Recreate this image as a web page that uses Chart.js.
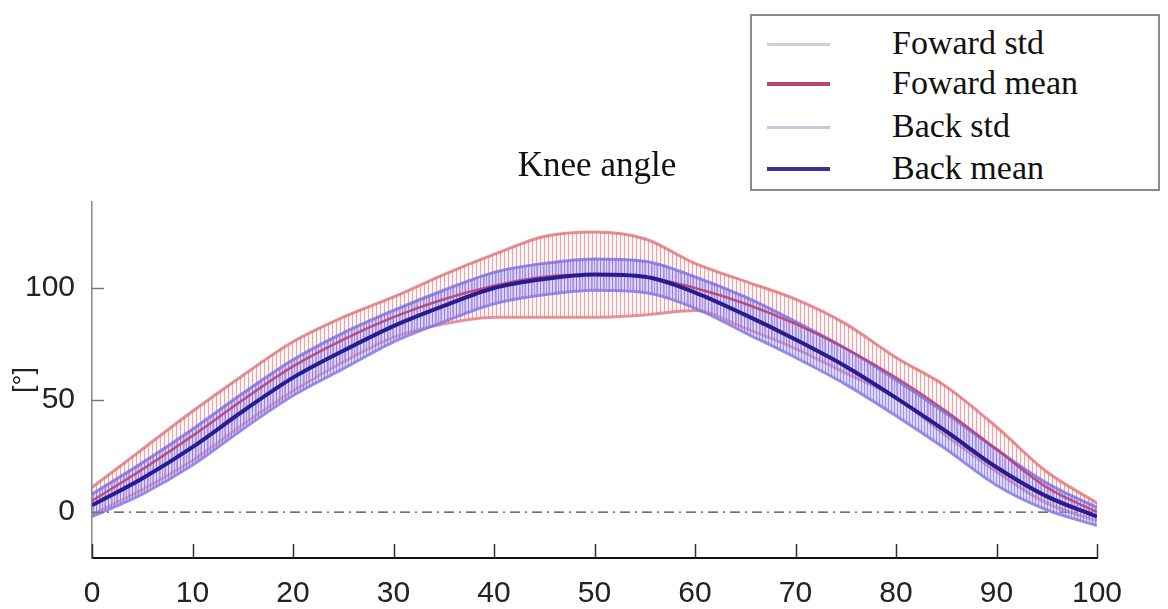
<!DOCTYPE html>
<html>
<head>
<meta charset="utf-8">
<script src="https://cdn.jsdelivr.net/npm/chart.js@4/dist/chart.umd.min.js"></script>
<style>
  body { margin: 0; background: #fff; }
  #wrap { position: relative; width: 1168px; height: 609px; }
  #title {
    position: absolute; left: 0; top: 145px; width: 1194px; text-align: center;
    font-family: "Liberation Serif", "Times New Roman", serif; font-size: 35px; line-height: 40px; color: #111;
  }
  #legend {
    position: absolute; left: 750px; top: 14px; width: 406px; height: 173px;
    border: 2px solid #8a8a8a; background: #fff;
    font-family: "Liberation Serif", "Times New Roman", serif; font-size: 34px; color: #111;
  }
  .row { position: absolute; left: 0; height: 0; }
  .row .ln { position: absolute; left: 15px; width: 63px; }
  .row .tx { position: absolute; left: 140px; top: -21px; white-space: nowrap; line-height: 40px; }
</style>
</head>
<body>
<div id="wrap">
  <canvas id="knee" width="1168" height="609"></canvas>
  <div id="title">Knee angle</div>
  <div id="legend"></div>
</div>
<script>
// gait cycle (%) and angles (deg)
const xs        = [0, 5, 10, 15, 20, 25, 30, 35, 40, 45, 50, 55, 60, 65, 70, 75, 80, 85, 90, 95, 100];
const backMean  = [3, 15, 29, 45, 60, 72, 83, 92, 100, 104, 106, 105, 98, 88, 77, 65, 51, 36, 20, 7, -2];
const backUpper = [8, 22, 37, 53, 68, 80, 90, 99, 107, 111, 113, 112, 105, 96, 85, 73, 59, 44, 28, 13, 2];
const backLower = [-2, 8, 21, 37, 52, 64, 76, 85, 93, 97, 99, 98, 91, 80, 69, 57, 43, 28, 12, 1, -6];
const fwdMean   = [5, 19, 34, 50, 65, 77, 87, 95, 101, 105, 106, 105, 100, 93, 84, 73, 60, 45, 28, 11, 0];
const fwdUpper  = [11, 28, 45, 61, 76, 87, 96, 106, 115, 123, 125, 122, 111, 103, 95, 84, 69, 56, 38, 18, 4];
const fwdLower  = [-1, 10, 23, 39, 54, 67, 78, 84, 87, 87, 87, 88, 90, 82, 73, 62, 51, 34, 18, 4, -4];
const zeroX     = [0, 100];
const zeroY     = [0, 0];
const xTicks    = [0, 10, 20, 30, 40, 50, 60, 70, 80, 90, 100];
const yTicks    = [0, 50, 100];

const legendItems = [
  { label: 'Foward std',  color: '#dccbd0', width: 3, y: 28 },
  { label: 'Foward mean', color: '#b8466a', width: 4, y: 68 },
  { label: 'Back std',    color: '#c9c9de', width: 3, y: 111 },
  { label: 'Back mean',   color: '#34348e', width: 4, y: 153 }
];

function pts(ys, xv) {
  return ys.map((y, i) => ({ x: (xv || xs)[i], y }));
}

// vertical hatching like the matlab errorbar fill
function hatch(gap, line, base) {
  const c = document.createElement('canvas');
  c.width = gap; c.height = 4;
  const g = c.getContext('2d');
  if (base) { g.fillStyle = base; g.fillRect(0, 0, gap, 4); }
  g.fillStyle = line;
  g.fillRect(0, 0, 1, 4);
  return g.createPattern(c, 'repeat');
}

const redHatch = hatch(4, 'rgba(222,110,115,0.6)', 'rgba(240,200,205,0.2)');
const blueHatch = hatch(3, 'rgba(115,105,235,0.6)', 'rgba(170,160,250,0.4)');

const lineBase = { pointRadius: 0, cubicInterpolationMode: 'monotone', fill: false };
const tickFont = { family: '"Liberation Sans", Arial, sans-serif', size: 30 };

// inward tick marks
const innerTicks = {
  id: 'innerTicks',
  afterDatasetsDraw(chart) {
    const { ctx, chartArea: a, scales: { x, y } } = chart;
    ctx.save();
    ctx.strokeStyle = '#333';
    ctx.lineWidth = 1.5;
    ctx.beginPath();
    for (const v of xTicks) {
      const px = Math.round(x.getPixelForValue(v)) + 0.5;
      ctx.moveTo(px, a.bottom);
      ctx.lineTo(px, a.bottom - 14);
    }
    ctx.stroke();
    ctx.strokeStyle = '#777';
    ctx.beginPath();
    for (const v of yTicks) {
      const py = Math.round(y.getPixelForValue(v)) + 0.5;
      ctx.moveTo(a.left, py);
      ctx.lineTo(a.left + 12, py);
    }
    ctx.stroke();
    ctx.restore();
  }
};

new Chart(document.getElementById('knee'), {
  type: 'line',
  data: {
    datasets: [
      { ...lineBase, label: 'Back mean', data: pts(backMean), borderColor: '#2a1c8e', borderWidth: 4 },
      { ...lineBase, label: 'Foward mean', data: pts(fwdMean), borderColor: 'rgba(185,60,110,0.85)', borderWidth: 2.5 },
      { ...lineBase, label: 'Back std', data: pts(backUpper), borderColor: 'rgba(120,110,225,0.8)', borderWidth: 3, fill: { target: '+1' }, backgroundColor: blueHatch },
      { ...lineBase, label: 'Back std low', data: pts(backLower), borderColor: 'rgba(120,110,225,0.8)', borderWidth: 3 },
      { ...lineBase, label: 'Foward std', data: pts(fwdUpper), borderColor: 'rgba(220,105,110,0.75)', borderWidth: 3, fill: { target: '+1' }, backgroundColor: redHatch },
      { ...lineBase, label: 'Foward std low', data: pts(fwdLower), borderColor: 'rgba(220,105,110,0.75)', borderWidth: 3 },
      { ...lineBase, label: 'zero', data: pts(zeroY, zeroX), borderColor: '#444', borderWidth: 1.3, borderDash: [10, 5, 2, 5] }
    ]
  },
  options: {
    responsive: false,
    animation: false,
    layout: { padding: { top: 202, right: 71, bottom: 0, left: 0 } },
    plugins: {
      legend: { display: false },
      tooltip: { enabled: false }
    },
    scales: {
      x: {
        type: 'linear',
        min: 0,
        max: 100,
        afterBuildTicks: s => { s.ticks = xTicks.map(v => ({ value: v })); },
        afterFit: s => { s.height = 51; },
        grid: { display: false },
        border: { display: true, color: '#111', width: 2 },
        ticks: { color: '#222', padding: 10, font: tickFont }
      },
      y: {
        min: -20.5,
        max: 138.4,
        afterBuildTicks: s => { s.ticks = yTicks.map(v => ({ value: v })); },
        afterFit: s => { s.width = 92; },
        grid: { display: false },
        border: { display: true, color: '#888', width: 1.5 },
        ticks: { color: '#222', padding: 9, font: tickFont },
        title: {
          display: true,
          text: '[°]',
          color: '#222',
          padding: { top: 8, bottom: 0 },
          font: { family: '"Liberation Sans", Arial, sans-serif', size: 27 }
        }
      }
    }
  },
  plugins: [innerTicks]
});

// legend box, built as html text
const legend = document.getElementById('legend');
legend.innerHTML = legendItems.map(it =>
  `<div class="row" style="top:${it.y}px"><div class="ln" style="top:${-it.width / 2}px;height:${it.width}px;background:${it.color}"></div><span class="tx">${it.label}</span></div>`
).join('');
</script>
</body>
</html>
